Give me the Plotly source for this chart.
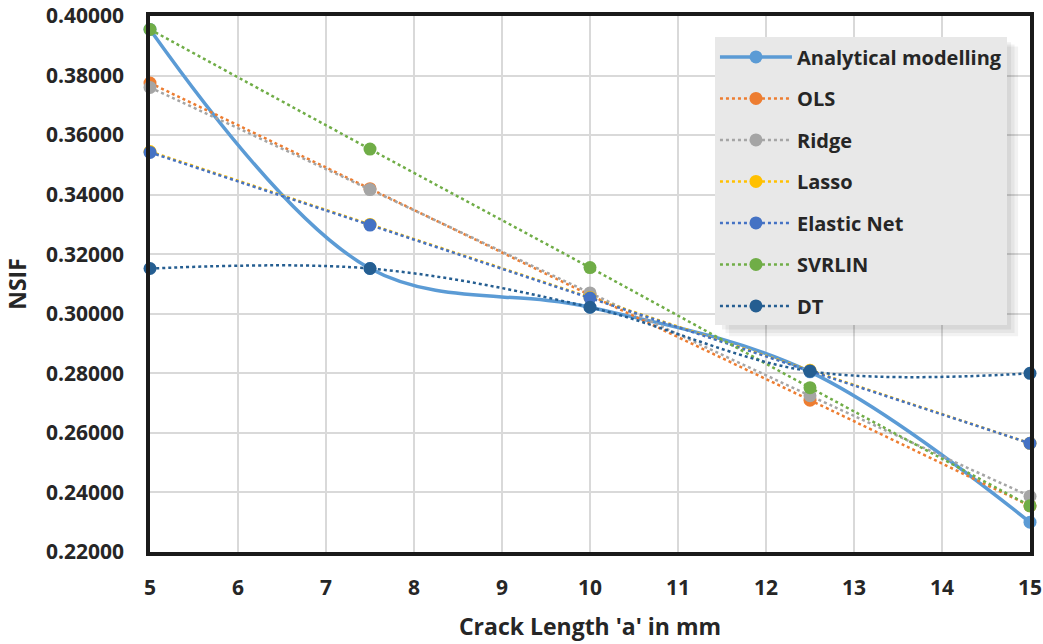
import plotly.graph_objects as go

crack_length = [5, 7.5, 10, 12.5, 15]
analytical = [0.3955, 0.3152, 0.3022, 0.2805, 0.2300]
ols = [0.3775, 0.3420, 0.3063, 0.2710, 0.2355]
ridge = [0.3760, 0.3417, 0.3070, 0.2725, 0.2387]
lasso = [0.3545, 0.3300, 0.3055, 0.2810, 0.2565]
elastic_net = [0.3542, 0.3298, 0.3053, 0.2808, 0.2565]
svrlin = [0.3955, 0.3553, 0.3155, 0.2752, 0.2355]
dt = [0.3152, 0.3152, 0.3022, 0.2807, 0.2800]

x_ticks = [5, 6, 7, 8, 9, 10, 11, 12, 13, 14, 15]
y_ticks = [0.22, 0.24, 0.26, 0.28, 0.30, 0.32, 0.34, 0.36, 0.38, 0.40]

series = [
    ("Analytical modelling", analytical, "#5B9BD5", "solid", 3.5),
    ("OLS", ols, "#ED7D31", "dot", 2.5),
    ("Ridge", ridge, "#A5A5A5", "dot", 2.5),
    ("Lasso", lasso, "#FFC000", "dot", 2.5),
    ("Elastic Net", elastic_net, "#4472C4", "dot", 2.5),
    ("SVRLIN", svrlin, "#70AD47", "dot", 2.5),
    ("DT", dt, "#255E91", "dot", 2.5),
]

fig = go.Figure()
for name, vals, color, dash, w in series:
    fig.add_trace(go.Scatter(
        x=crack_length, y=vals, name=name, legendgroup=name,
        mode="lines+markers",
        line=dict(color=color, dash=dash, width=w, shape="spline", smoothing=1),
        marker=dict(color=color, size=13),
        cliponaxis=False,
    ))

font_family = "'Open Sans', Lato, sans-serif"
txt = "#262626"

# soft shadow behind the legend box (paper coordinates)
shadow = []
for i, a in enumerate([0.05, 0.05, 0.06]):
    off = 0.004 * (3 - i)
    shadow.append(dict(
        type="rect", xref="paper", yref="paper",
        x0=0.646 + off, x1=0.9745 + off, y0=0.4215 - off * 1.6, y1=0.955 - off,
        fillcolor=f"rgba(0,0,0,{a})", line=dict(width=0), layer="above",
    ))

fig.update_layout(
    width=1043, height=644,
    margin=dict(l=150, r=13, t=16, b=92, autoexpand=False),
    paper_bgcolor="white", plot_bgcolor="white",
    font=dict(family=font_family, color=txt),
    showlegend=True,
    legend=dict(
        x=0.642, y=0.96, xanchor="left", yanchor="top",
        bgcolor="#E8E8E8", borderwidth=0,
        font=dict(size=20, family=font_family, color=txt, weight="bold"),
        tracegroupgap=12.5,
        itemwidth=72,
    ),
    shapes=shadow,
)

fig.update_xaxes(
    range=[5, 15], tickvals=x_ticks, automargin=False, ticklabeloverflow="allow",
    showgrid=True, gridcolor="#D9D9D9", gridwidth=2,
    showline=True, linecolor="#1A1A1A", linewidth=3.5, mirror=True,
    ticks="", zeroline=False, ticklabelstandoff=14,
    tickfont=dict(size=21, family=font_family, color=txt, weight="bold"),
    title=dict(text="Crack Length 'a' in mm", standoff=20,
               font=dict(size=23, family=font_family, color=txt, weight="bold")),
)
fig.update_yaxes(
    range=[0.22, 0.40], tickvals=y_ticks, tickformat=".5f", automargin=False,
    ticklabeloverflow="allow",
    showgrid=True, gridcolor="#D9D9D9", gridwidth=2,
    showline=True, linecolor="#1A1A1A", linewidth=3.5, mirror=True,
    ticks="", zeroline=False, ticklabelstandoff=18,
    tickfont=dict(size=21, family=font_family, color=txt, weight="bold"),
    title=dict(text="NSIF", standoff=14,
               font=dict(size=23, family=font_family, color=txt, weight="bold")),
)

fig.write_html(
    "out.html",
    config={"displayModeBar": False},
    post_script="document.body.style.margin='0';document.body.style.overflow='hidden';",
)
